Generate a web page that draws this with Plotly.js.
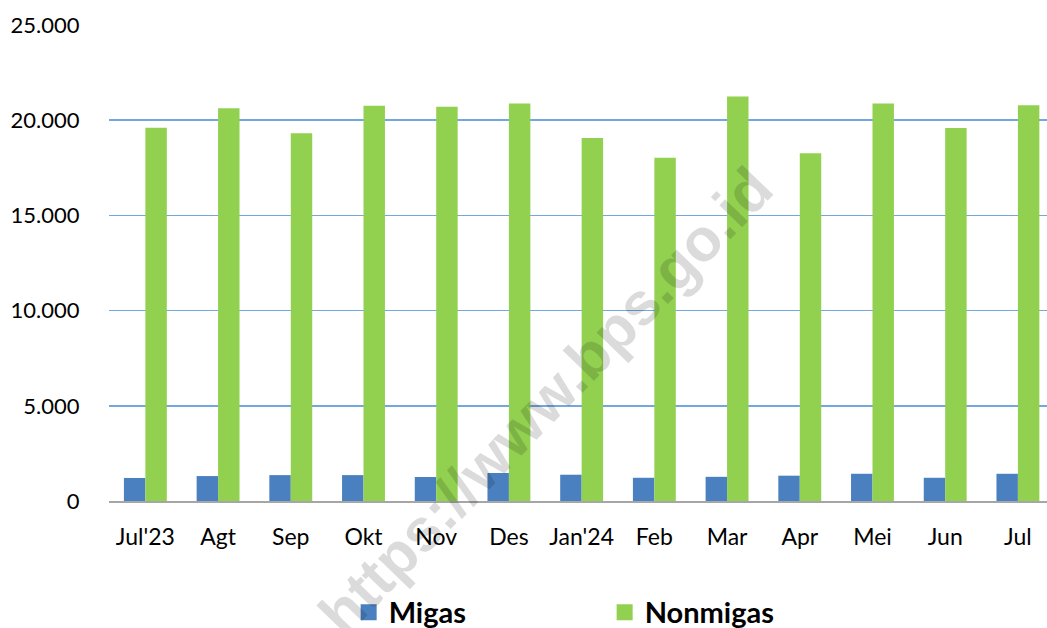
<!DOCTYPE html>
<html>
<head>
<meta charset="utf-8">
<script src="https://cdn.plot.ly/plotly-3.0.1.min.js"></script>
<style>
  html, body { margin: 0; padding: 0; background: #ffffff; }
  #chart { width: 1047px; height: 628px; }
</style>
</head>
<body>
<div id="chart"></div>
<script>
// Categories (months)
const months = ["Jul'23", "Agt", "Sep", "Okt", "Nov", "Des", "Jan'24", "Feb", "Mar", "Apr", "Mei", "Jun", "Jul"];
// Series values
const migas = [1210, 1310, 1360, 1360, 1260, 1470, 1380, 1220, 1270, 1330, 1430, 1220, 1430];
const nonmigas = [19610, 20630, 19320, 20760, 20710, 20880, 19060, 18030, 21250, 18260, 20880, 19590, 20790];
// Y axis ticks
const yTicks = [0, 5000, 10000, 15000, 20000, 25000];
const seriesNames = ["Migas", "Nonmigas"];
const watermark = "https://www.bps.go.id";

const FONT = "Lato, 'Open Sans', sans-serif";
const BLUE = "#4a80c0";
const GREEN = "#92d050";

const data = [
  { type: "bar", x: months, y: migas, name: seriesNames[0], marker: { color: BLUE }, showlegend: false, hoverinfo: "x+y" },
  { type: "bar", x: months, y: nonmigas, name: seriesNames[1], marker: { color: GREEN }, showlegend: false, hoverinfo: "x+y" },
  { type: "scatter", mode: "markers", x: [null], y: [null], name: seriesNames[0], marker: { symbol: "square", size: 17, color: BLUE } },
  { type: "scatter", mode: "markers", x: [null], y: [null], name: seriesNames[1], marker: { symbol: "square", size: 17, color: GREEN } }
];

const layout = {
  width: 1047,
  height: 628,
  margin: { l: 109, r: 0, t: 25, b: 127 },
  paper_bgcolor: "#ffffff",
  plot_bgcolor: "#ffffff",
  separators: ",.",
  barmode: "group",
  bargap: 0.41,
  bargroupgap: 0,
  font: { family: FONT, size: 22, color: "#000000" },
  xaxis: {
    type: "category",
    range: [-0.5, 12.4],
    showline: true,
    linecolor: "#a6a6a6",
    linewidth: 2,
    showgrid: false,
    zeroline: false,
    ticks: "outside",
    ticklen: 14,
    tickcolor: "rgba(0,0,0,0)",
    tickfont: { family: FONT, size: 23, color: "#000000" }
  },
  yaxis: {
    range: [0, 25000],
    tickvals: yTicks,
    tickformat: ",d",
    showgrid: true,
    gridcolor: "#72a8de",
    gridwidth: 1.5,
    zeroline: false,
    showline: false,
    ticks: "outside",
    ticklen: 24,
    tickcolor: "rgba(0,0,0,0)",
    tickfont: { family: FONT, size: 22, color: "#000000" }
  },
  showlegend: true,
  legend: {
    orientation: "h",
    xref: "container",
    yref: "container",
    x: 0.333,
    xanchor: "left",
    y: 0.025,
    yanchor: "middle",
    entrywidth: 211,
    entrywidthmode: "pixels",
    font: { family: FONT, size: 29, color: "#000000", weight: "bold" },
    itemsizing: "trace",
    bgcolor: "rgba(0,0,0,0)"
  },
  annotations: [
    {
      text: "<b>" + watermark + "</b>",
      xref: "paper", yref: "paper",
      x: 0.465, y: 0.21,
      xanchor: "center", yanchor: "middle",
      showarrow: false,
      textangle: -46,
      font: { family: "Liberation Sans, Arial, sans-serif", size: 60, color: "rgba(0,0,0,0.14)" }
    }
  ]
};

Plotly.newPlot("chart", data, layout, { displayModeBar: false, staticPlot: true });
</script>
</body>
</html>
